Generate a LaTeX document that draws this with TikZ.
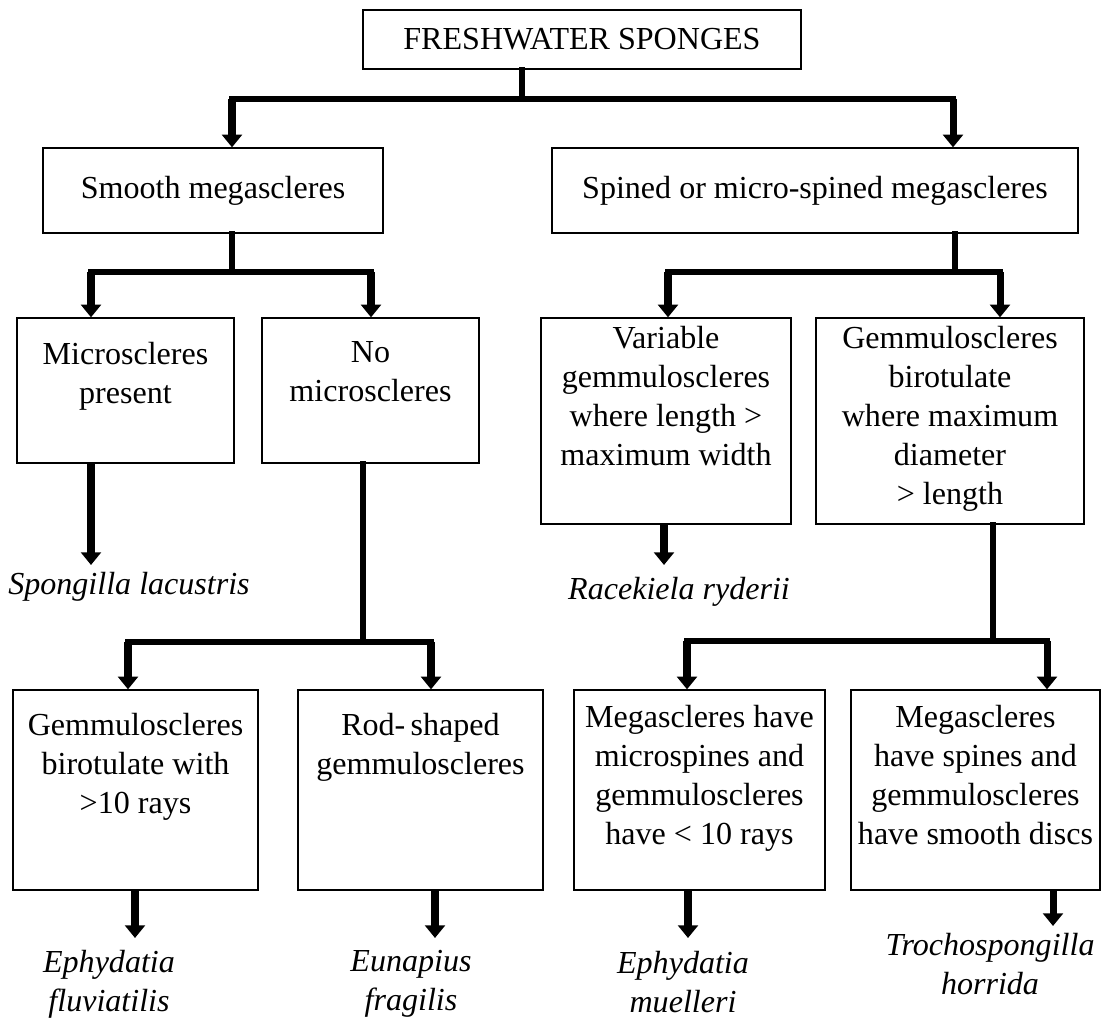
\documentclass[tikz,border=0pt]{standalone}
\usepackage{fontspec}
\setmainfont{Liberation Serif}
\usetikzlibrary{arrows.meta}

\tikzstyle{block}=[rectangle,
    line width=0.9pt,
    draw=black,
    inner sep=0pt]
\tikzstyle{species}=[align=center, inner sep=0pt, font=\itshape]
\tikzstyle{bar}=[line width=3.6pt, line cap=rect]
\tikzstyle{arr}=[line width=5pt, -{Triangle[width=14pt,length=9pt]}]

\newcommand{\boxtext}[4]{\begin{minipage}[c][#2][t]{#1}\centering\vspace*{#3}#4\end{minipage}}

\begin{document}
\fontsize{22.8}{27.7}\selectfont
\begin{tikzpicture}[x=0.025cm, y=-0.025cm]
                \useasboundingbox (0,0) rectangle (1102,1024);
                % boxes
                \node (fresh) [block, minimum width=10.95cm, minimum height=1.475cm] at (582,39.5) {FRESHWATER SPONGES};
                \node (smooth) [block, minimum width=8.5cm, minimum height=2.125cm] at (213,190.5) {Smooth megascleres};
                \node (spined) [block, minimum width=13.15cm, minimum height=2.125cm] at (815,190.5) {Spined or micro-spined megascleres};
                \node (micro) [block] at (125.5,390.5) {\boxtext{5.425cm}{3.625cm}{0.6cm}{Microscleres\\present}};
                \node (nomicro) [block] at (370.5,390.5) {\boxtext{5.425cm}{3.625cm}{0.6cm}{No\\microscleres}};
                \node (variable) [block] at (666,421) {\boxtext{6.25cm}{5.15cm}{0.2cm}{Variable\\gemmuloscleres\\where length >\\maximum width}};
                \node (gemright) [block] at (950,421) {\boxtext{6.7cm}{5.15cm}{0.2cm}{Gemmuloscleres\\birotulate\\where maximum\\diameter\\> length}};
                \node (birot) [block] at (135.5,790) {\boxtext{6.125cm}{5cm}{0.575cm}{Gemmuloscleres\\birotulate with\\>10 rays}};
                \node (rod) [block] at (420.5,790) {\boxtext{6.125cm}{5cm}{0.575cm}{Rod-\,shaped\\gemmuloscleres}};
                \node (microsp) [block] at (699.5,790) {\boxtext{6.275cm}{5cm}{0.375cm}{Megascleres have\\microspines and\\gemmuloscleres\\have < 10 rays}};
                \node (spines) [block] at (975.5,790) {\boxtext{6.225cm}{5cm}{0.375cm}{Megascleres\\have spines and\\gemmuloscleres\\have smooth discs}};
                % species
                \node (spongilla) [species] at (129,587) {Spongilla lacustris};
                \node (racekiela) [species] at (679,592) {Racekiela ryderii};
                \node (fluviatilis) [species] at (109,984) {Ephydatia\\fluviatilis};
                \node (eunapius) [species] at (411,984) {Eunapius\\fragilis};
                \node (muelleri) [species] at (683,982) {Ephydatia\\muelleri};
                \node (trocho) [species] at (990,964) {Trochospongilla\\horrida};
                % junctions
                \coordinate (j0) at (522,99);
                \coordinate (a1) at (232,99);
                \coordinate (a2) at (953,99);
                \coordinate (j1) at (232,272);
                \coordinate (b1) at (91,272);
                \coordinate (b2) at (371,272);
                \coordinate (j2) at (955,272);
                \coordinate (b3) at (668,272);
                \coordinate (b4) at (1000,272);
                \coordinate (j3) at (363,642);
                \coordinate (c1) at (128,642);
                \coordinate (c2) at (431,642);
                \coordinate (j4) at (993,641);
                \coordinate (c3) at (687,641);
                \coordinate (c4) at (1047,641);
                \coordinate (t1) at (91,565);
                \coordinate (t2) at (664,565);
                \coordinate (t3) at (135,938);
                \coordinate (t4) at (435,938);
                \coordinate (t5) at (688,938);
                \coordinate (t6) at (1053,926);
                % connectors
                \draw [bar] (fresh.south -| j0) -- (j0);
                \draw [bar] (a1) -- (a2);
                \draw [arr] (a1) -- (a1 |- smooth.north);
                \draw [arr] (a2) -- (a2 |- spined.north);
                \draw [bar] (smooth.south -| j1) -- (j1);
                \draw [bar] (b1) -- (b2);
                \draw [arr] (b1) -- (b1 |- micro.north);
                \draw [arr] (b2) -- (b2 |- nomicro.north);
                \draw [bar] (spined.south -| j2) -- (j2);
                \draw [bar] (b3) -- (b4);
                \draw [arr] (b3) -- (b3 |- variable.north);
                \draw [arr] (b4) -- (b4 |- gemright.north);
                \draw [arr] (micro.south -| t1) -- (t1);
                \draw [arr] (variable.south -| t2) -- (t2);
                \draw [bar] (nomicro.south -| j3) -- (j3);
                \draw [bar] (c1) -- (c2);
                \draw [arr] (c1) -- (c1 |- birot.north);
                \draw [arr] (c2) -- (c2 |- rod.north);
                \draw [bar] (gemright.south -| j4) -- (j4);
                \draw [bar] (c3) -- (c4);
                \draw [arr] (c3) -- (c3 |- microsp.north);
                \draw [arr] (c4) -- (c4 |- spines.north);
                \draw [arr] (birot.south -| t3) -- (t3);
                \draw [arr] (rod.south -| t4) -- (t4);
                \draw [arr] (microsp.south -| t5) -- (t5);
                \draw [arr] (spines.south -| t6) -- (t6);
            \end{tikzpicture}
\end{document}
